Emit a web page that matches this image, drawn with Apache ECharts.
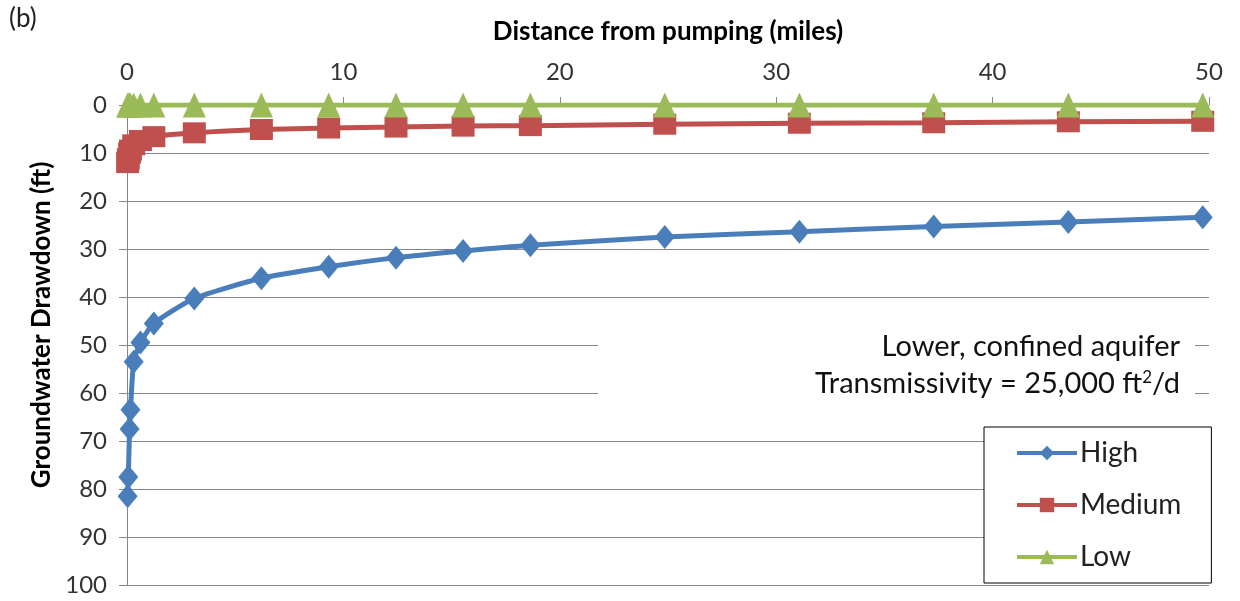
<!DOCTYPE html>
<html>
<head>
<meta charset="utf-8">
<script src="https://cdn.jsdelivr.net/npm/echarts@6/dist/echarts.min.js"></script>
<style>
  html, body { margin: 0; padding: 0; background: #fff; }
  #chart { width: 1240px; height: 601px; }
</style>
</head>
<body>
<div id="chart"></div>
<script>
// distance from pumping (miles) and drawdown (ft) for each scenario
var distance = [0.03, 0.06, 0.12, 0.16, 0.31, 0.62, 1.24, 3.11, 6.21, 9.32, 12.43, 15.53, 18.64, 24.85, 31.07, 37.28, 43.5, 49.71]
var high = [81.5, 77.5, 67.5, 63.5, 53.5, 49.5, 45.5, 40.3, 36.1, 33.7, 31.8, 30.4, 29.2, 27.5, 26.4, 25.3, 24.4, 23.4]
var medium = [12.0, 11.2, 10.0, 9.4, 8.3, 7.4, 6.6, 5.8, 5.1, 4.8, 4.6, 4.4, 4.3, 4.0, 3.8, 3.7, 3.5, 3.4]
var low = [0, 0, 0, 0, 0, 0, 0, 0, 0, 0, 0, 0, 0, 0, 0, 0, 0, 0]
var names = ['High', 'Medium', 'Low']
var colors = ['#4A7EBB', '#C0504D', '#9BBB59']
var symbols = ['diamond', 'rect', 'triangle']
var sizes = [[20, 24], [23, 21], [23, 25]]

var font = 'Lato, "Open Sans", sans-serif'

function pairs(values) {
  return distance.map(function(d, i) { return [d, values[i]] })
}

var chart = echarts.init(document.getElementById('chart'))

var series = [high, medium, low].map(function(values, i) {
  return {
    name: names[i],
    type: 'line',
    data: pairs(values),
    symbol: symbols[i],
    symbolSize: sizes[i],
    showAllSymbol: true,
    smooth: 0.2,
    lineStyle: { color: colors[i], width: 5 },
    itemStyle: { color: colors[i] },
    z: 3 + i
  }
})

chart.setOption({
  animation: false,
  textStyle: { fontFamily: font },
  grid: { left: 127, right: 31, top: 105, bottom: 16 },
  xAxis: {
    type: 'value',
    position: 'top',
    min: 0,
    max: 50,
    interval: 10,
    name: 'Distance from pumping (miles)',
    nameLocation: 'middle',
    nameGap: 60,
    nameTextStyle: { fontSize: 26, fontWeight: 'bold', color: '#000', fontFamily: font },
    axisLine: { lineStyle: { color: '#868686', width: 1 } },
    axisTick: { length: 8, lineStyle: { color: '#868686' } },
    axisLabel: { fontSize: 24, color: '#333', margin: 21 },
    splitLine: { show: false }
  },
  yAxis: {
    type: 'value',
    inverse: true,
    min: 0,
    max: 100,
    interval: 10,
    name: 'Groundwater Drawdown (ft)',
    nameLocation: 'middle',
    nameGap: 70,
    nameTextStyle: { fontSize: 26, fontWeight: 'bold', color: '#000', fontFamily: font, padding: [0, 0, 0, 40] },
    axisLine: { show: true, lineStyle: { color: '#868686', width: 1 } },
    axisTick: { show: true, length: 8, lineStyle: { color: '#868686' } },
    axisLabel: { fontSize: 24, color: '#333', margin: 20 },
    splitLine: { lineStyle: { color: '#868686', width: 1 } }
  },
  legend: {
    orient: 'vertical',
    left: 984,
    top: 427,
    padding: [12, 30, 12, 31],
    itemGap: 24,
    itemWidth: 60,
    itemHeight: 18,
    backgroundColor: '#fff',
    borderColor: '#000',
    borderWidth: 1,
    lineStyle: { width: 4 },
    textStyle: { fontSize: 28, lineHeight: 28, color: '#222', fontFamily: font, padding: [0, 0, 0, -2] },
    data: names
  },
  graphic: [
    {
      type: 'text',
      left: 9,
      top: 6,
      style: { text: '(b)', fontSize: 26, fill: '#222', fontFamily: font }
    },
    {
      type: 'rect',
      z: 50,
      shape: { x: 598, y: 326, width: 597, height: 76 },
      style: { fill: '#fff' }
    },
    {
      type: 'text',
      z: 51,
      x: 1180,
      y: 347,
      style: {
        text: 'Lower, confined aquifer',
        align: 'right',
        verticalAlign: 'middle',
        fontSize: 29,
        fill: '#111',
        fontFamily: font
      }
    },
    {
      type: 'text',
      z: 51,
      x: 1180,
      y: 384,
      style: {
        text: 'Transmissivity = 25,000 ft{sup|2}/d',
        align: 'right',
        verticalAlign: 'middle',
        fontSize: 29,
        fill: '#111',
        fontFamily: font,
        rich: {
          sup: { fontSize: 17, verticalAlign: 'top', padding: [0, 0, 10, 0], fill: '#111', fontFamily: font }
        }
      }
    }
  ],
  series: series
})
</script>
</body>
</html>
